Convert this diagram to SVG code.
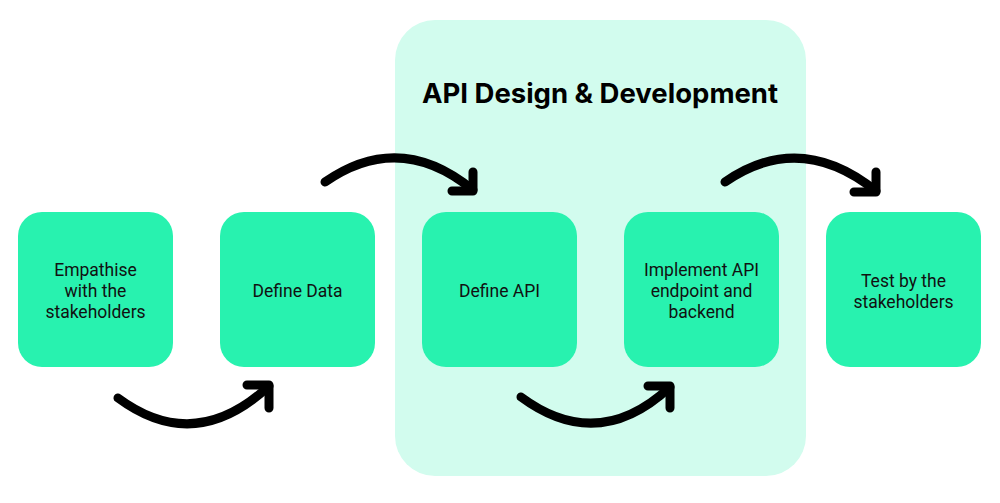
<svg xmlns="http://www.w3.org/2000/svg" width="1000" height="503" viewBox="0 0 1000 503">
<style>
.node{fill:#28F2AF}
.lbl{font-family:Roboto,"Liberation Sans",sans-serif;font-size:17.5px;fill:#111;text-anchor:middle}
.arc{fill:none;stroke:#000;stroke-width:9;stroke-linecap:round;stroke-linejoin:round}
.title{font-family:Inter,"Noto Sans",sans-serif;font-weight:700;font-size:27.5px;fill:#000;text-anchor:middle}
</style>
<rect width="1000" height="503" fill="#fff"/>
<g id="group-api">
<rect x="395" y="20" width="411" height="456" rx="40" fill="#D2FCEE"/>
<text class="title" x="600" y="103">API Design &amp; Development</text>
</g>
<g id="n1"><rect class="node" x="18" y="212" width="155" height="155" rx="24"/>
<text class="lbl" x="95.5" y="276">Empathise</text><text class="lbl" x="95.5" y="297">with the</text><text class="lbl" x="95.5" y="318">stakeholders</text></g>
<g id="n2"><rect class="node" x="220" y="212" width="155" height="155" rx="24"/>
<text class="lbl" x="297.5" y="297">Define Data</text></g>
<g id="n3"><rect class="node" x="422" y="212" width="155" height="155" rx="24"/>
<text class="lbl" x="499.5" y="297">Define API</text></g>
<g id="n4"><rect class="node" x="624" y="212" width="155" height="155" rx="24"/>
<text class="lbl" x="701.5" y="276">Implement API</text><text class="lbl" x="701.5" y="297">endpoint and</text><text class="lbl" x="701.5" y="318">backend</text></g>
<g id="n5"><rect class="node" x="826" y="212" width="155" height="155" rx="24"/>
<text class="lbl" x="903.5" y="287">Test by the</text><text class="lbl" x="903.5" y="308">stakeholders</text></g>
<g id="connectors">
<path class="arc" d="M118,398 Q195,455 269,386"/><path class="arc" d="M247,385 L269,385 L269,408"/>
<path class="arc" d="M325,182 Q400,130 473,190"/><path class="arc" d="M473,172 L473,191 L452,191"/>
<path class="arc" d="M521,397 Q598,454 670,387"/><path class="arc" d="M648,386 L670,386 L670,408"/>
<path class="arc" d="M725,182 Q800,130 876,191"/><path class="arc" d="M876,172 L876,192 L854,192"/>
</g>
</svg>
